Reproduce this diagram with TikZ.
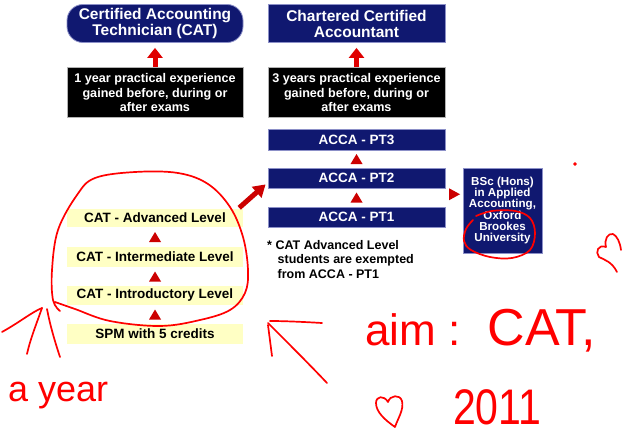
\documentclass[tikz,border=0pt]{standalone}
\usepackage{fontspec}
\setmainfont{Liberation Sans}
\usetikzlibrary{arrows.meta,calc}
\definecolor{navy}{HTML}{101870}
\definecolor{navyedge}{HTML}{8C90C8}
\definecolor{arrred}{HTML}{E00000}
\definecolor{trired}{HTML}{CC0000}
\definecolor{pale}{HTML}{FFFFC4}
\definecolor{ink}{HTML}{FF0000}
\newcommand{\uptri}[2]{\fill[trired] ($(#1.north)!0.5!(#2.south)$) ++(-6,5) -- ++(12,0) -- ++(-6,-10) -- cycle;}
\begin{document}
\begin{tikzpicture}[x=1pt,y=-1pt,
  navybox/.style={fill=navy, draw=navyedge, line width=0.8pt, text=white,
    font=\fontsize{15.5}{16}\selectfont\bfseries, align=center, inner sep=0pt,
    minimum width=177pt, minimum height=38pt},
  blackbox/.style={fill=black, draw=gray!60, line width=0.6pt, text=white,
    font=\fontsize{12.6}{14.5}\selectfont\bfseries, align=center, inner sep=0pt,
    minimum width=177pt, minimum height=50pt},
  accabox/.style={fill=navy, draw=navyedge, line width=0.8pt, text=white,
    font=\fontsize{13.5}{14}\selectfont\bfseries, inner sep=0pt,
    minimum width=177pt, minimum height=20pt},
  levelbox/.style={fill=pale, text=black, font=\fontsize{13.5}{14}\selectfont\bfseries,
    minimum width=176pt, minimum height=19pt, inner sep=0pt},
  uparrow/.style={draw=arrred, line width=5pt, -{Triangle[width=15pt,length=10pt]}, shorten >=5pt},
  diagarrow/.style={draw=trired, line width=5pt, -{Triangle[width=14pt,length=12pt]}},
  ink/.style={draw=ink, line width=1.7pt, line cap=round, line join=round},
  hand/.style={text=ink, inner sep=0pt}
]
\useasboundingbox[fill=white] (0,0) rectangle (622,436);

% top boxes
\node[navybox, rounded corners=16pt, minimum width=176pt] (cat) at (155,23.5) {Certified Accounting\\Technician (CAT)};
\node[blackbox, minimum width=176pt] (exp1) at (155,92.5) {1 year practical experience\\gained before, during or\\after exams};
\node[navybox] (cca) at (356.5,23.5) {Chartered Certified\\Accountant};
\node[blackbox] (exp2) at (356.5,92.5) {3 years practical experience\\gained before, during or\\after exams};

% ACCA
\node[accabox, minimum height=21pt] (pt3) at (356.5,139.5) {ACCA - PT3};
\node[accabox] (pt2) at (356.5,178) {ACCA - PT2};
\node[accabox] (pt1) at (356.5,217) {ACCA - PT1};

% BSc
\node[fill=navy, draw=navyedge, line width=0.8pt, text=white, inner sep=0pt,
  minimum width=79pt, minimum height=85pt, align=center,
  font=\fontsize{11.6}{11.4}\selectfont\bfseries] (bsc) at (502.5,210.5)
  {BSc (Hons)\\in Applied\\Accounting,\\Oxford\\Brookes\\University};

% CAT levels
\node[levelbox, minimum height=18pt] (adv) at (155,218) {CAT - Advanced Level};
\node[levelbox, minimum height=20pt] (int) at (155,257) {CAT - Intermediate Level};
\node[levelbox] (intro) at (155,295.5) {CAT - Introductory Level};
\node[levelbox, minimum height=20pt] (spm) at (155,334) {SPM with 5 credits};

% footnote
\node[anchor=north west, align=left, inner sep=0pt,
  font=\fontsize{12.5}{14.5}\selectfont\bfseries] (note) at (267,240)
  {* CAT Advanced Level\\\hspace*{10.5pt}students are exempted\\\hspace*{10.5pt}from ACCA - PT1};

% connectors
\draw[uparrow] (exp1.north) -- (cat.south);
\draw[uparrow] (exp2.north) -- (cca.south);
\uptri{pt2}{pt3}
\uptri{pt1}{pt2}
\uptri{int}{adv}
\uptri{intro}{int}
\uptri{spm}{intro}
\fill[trired] ($(pt2.east)!0.5!(bsc.west)$) ++(-5,-6) -- ++(0,12) -- ++(11,-6) -- cycle;
\draw[diagarrow] ($(adv.north east)+(-4,-1)$) -- ($(pt2.south west)+(-2,-4)$);

% hand-drawn annotations
\draw[ink] plot[smooth, tension=0.6] coordinates {(60,311) (53,300) (52,270) (58,230) (77,195) (95,178) (135,172) (178,173) (208,184) (230,207) (243,237) (248,270) (245,293) (230,310) (200,320) (160,326) (110,321) (75,309) (55,302)};
\draw[ink] plot[smooth, tension=0.6] coordinates {(476,216) (492,211) (515,211) (530,218) (535,233) (530,250) (512,258) (490,257) (471,250) (464,241) (466,229) (473,220)};
\draw[ink] (2,332) .. controls (20,322) and (32,312) .. (42,308);
\draw[ink] (42,308) .. controls (36,325) and (30,340) .. (27,354);
\draw[ink] (47,309) .. controls (50,325) and (55,342) .. (60,357);
\draw[ink] (270,321) .. controls (285,321) and (305,322) .. (322,323);
\draw[ink] (268,323) .. controls (290,345) and (310,365) .. (327,383);
\draw[ink] (268,325) -- (272,356);
% hearts
\draw[ink] (395,427) .. controls (385,420) and (376,412) .. (376,403) .. controls (376,396) and (384,395) .. (388,402) .. controls (390,395) and (400,394) .. (402,401) .. controls (404,410) and (398,418) .. (395,427);
\draw[ink] (617,272) .. controls (612,262) and (605,260) .. (599,257) .. controls (595,252) and (598,244) .. (606,247) .. controls (604,239) and (608,233) .. (613,234) .. controls (617,236) and (620,242) .. (621,250);
\fill[ink] (575,164) circle (1pt);
% handwritten text
\node[hand, anchor=base west, font=\fontsize{36}{36}\selectfont] (ayear) at (8,401) {a year};
\node[hand, anchor=base west, font=\fontsize{44}{44}\selectfont] (aim) at (365,345) {aim :\hspace{27pt}{\fontsize{52}{52}\selectfont CAT,}};
\node[hand, anchor=base west, font=\fontsize{50}{50}\selectfont] (year) at (453,424) {\scalebox{0.82}[1]{2011}};
\end{tikzpicture}
\end{document}
